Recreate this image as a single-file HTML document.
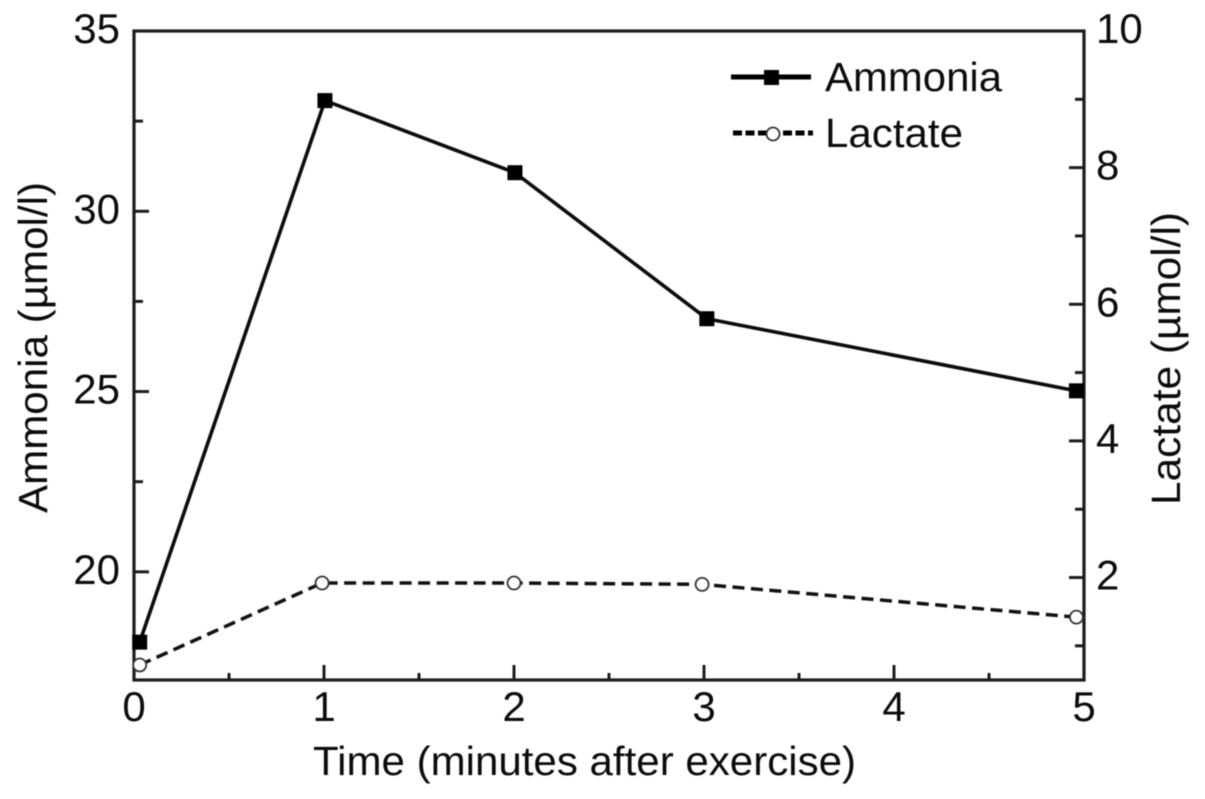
<!DOCTYPE html>
<html lang="en">
<head>
<meta charset="utf-8">
<title>Ammonia and lactate after exercise</title>
<style>
html,body{margin:0;padding:0;background:#fff;width:1205px;height:799px;overflow:hidden}
svg{display:block;filter:blur(0.6px)}
text{font-family:"Liberation Sans",Arial,sans-serif;font-size:41px;fill:#0c0c0c}
.tl{font-size:42px}
</style>
</head>
<body>
<svg id="chart" xmlns="http://www.w3.org/2000/svg" width="1205" height="799" viewBox="0 0 1205 799">
  <rect x="0" y="0" width="1205" height="799" fill="#fff"/>
  <g id="axes"></g>
  <g id="series"></g>
  <g>
    <g>
      <line x1="731" y1="77" x2="811" y2="77" stroke="#000" stroke-width="5"/>
      <rect x="764" y="70" width="15" height="15" fill="#000"/>
      <text x="825" y="91" textLength="177" lengthAdjust="spacingAndGlyphs">Ammonia</text>
    </g>
    <g>
      <line x1="733" y1="133" x2="813" y2="133" stroke="#000" stroke-width="5" stroke-dasharray="9 3.5"/>
      <circle cx="773" cy="134" r="6.5" fill="#fff" stroke="#333" stroke-width="1.8"/>
      <text x="825" y="147" textLength="138" lengthAdjust="spacingAndGlyphs">Lactate</text>
    </g>
  </g>
  <text x="313" y="775" textLength="543" lengthAdjust="spacingAndGlyphs">Time (minutes after exercise)</text>
  <text transform="translate(47,513) rotate(-90)" textLength="331" lengthAdjust="spacingAndGlyphs">Ammonia (µmol/l)</text>
  <text transform="translate(1180,505) rotate(-90)" textLength="293" lengthAdjust="spacingAndGlyphs">Lactate (µmol/l)</text>
</svg>
<script>
const times = [0.03, 1.005, 2.005, 3.015, 4.96];
const lactateTimes = [0.03, 0.99, 2.0, 2.99, 4.96];
const ammoniaValues = [18.05, 33.07, 31.07, 27.02, 25.02];
const lactateValues = [0.72, 1.92, 1.92, 1.9, 1.42];
const xTickLabels = [0, 1, 2, 3, 4, 5];
const xMinorTicks = [0.5, 1.5, 2.5, 3.5, 4.5];
const leftTickLabels = [20, 25, 30, 35];
const leftMinorTicks = [17.5, 22.5, 27.5, 32.5];
const rightTickLabels = [2, 4, 6, 8, 10];
const rightMinorTicks = [1, 3, 5, 7, 9];

const plotLeft = 134, plotRight = 1084, plotTop = 31, plotBottom = 680;
const xMin = 0, xMax = 5, leftMin = 17, leftMax = 35, rightMin = 0.5, rightMax = 10;
const SVG_NS = 'http://www.w3.org/2000/svg';

function xScale(v) { return plotLeft + (v - xMin) / (xMax - xMin) * (plotRight - plotLeft); }
function leftScale(v) { return plotBottom - (v - leftMin) / (leftMax - leftMin) * (plotBottom - plotTop); }
function rightScale(v) { return plotBottom - (v - rightMin) / (rightMax - rightMin) * (plotBottom - plotTop); }

function make(tag, attrs, parent) {
  const el = document.createElementNS(SVG_NS, tag);
  for (const k in attrs) el.setAttribute(k, attrs[k]);
  parent.appendChild(el);
  return el;
}

const axes = document.getElementById('axes');
const series = document.getElementById('series');
const axisStyle = { stroke: '#1c1c1c', 'stroke-width': 3.2, fill: 'none' };

const frame = make('rect', Object.assign({ x: plotLeft, y: plotTop, width: plotRight - plotLeft, height: plotBottom - plotTop }, axisStyle), axes);



function tick(x1, y1, x2, y2, name) {
  const t = make('line', { x1: x1, y1: y1, x2: x2, y2: y2, stroke: '#1c1c1c', 'stroke-width': 3 }, axes);
  
  
}
function label(x, y, str, anchor, name) {
  const t = make('text', { x: x, y: y, 'text-anchor': anchor, 'class': 'tl' }, axes);
  t.textContent = str;
  
  
}

xTickLabels.forEach(function (v) {
  tick(xScale(v), plotBottom, xScale(v), plotBottom - 15, 'x-major-tick');
  label(xScale(v), 721, String(v), 'middle', 'x-tick-label');
});
xMinorTicks.forEach(function (v) {
  tick(xScale(v), plotBottom, xScale(v), plotBottom - 7, 'x-minor-tick');
});
leftTickLabels.forEach(function (v) {
  tick(plotLeft, leftScale(v), plotLeft + 15, leftScale(v), 'left-major-tick');
  label(120, leftScale(v) + 12, String(v), 'end', 'left-tick-label');
});
leftMinorTicks.forEach(function (v) {
  tick(plotLeft, leftScale(v), plotLeft + 9, leftScale(v), 'left-minor-tick');
});
rightTickLabels.forEach(function (v) {
  tick(plotRight, rightScale(v), plotRight - 15, rightScale(v), 'right-major-tick');
  label(1096, rightScale(v) + 12, String(v), 'start', 'right-tick-label');
});
rightMinorTicks.forEach(function (v) {
  tick(plotRight, rightScale(v), plotRight - 9, rightScale(v), 'right-minor-tick');
});

const ammoniaPts = ammoniaValues.map(function (v, i) { return xScale(times[i]) + ',' + leftScale(v); }).join(' ');
const ammoniaLine = make('polyline', { points: ammoniaPts, fill: 'none', stroke: '#0c0c0c', 'stroke-width': 3.6 }, series);



const lactatePts = lactateValues.map(function (v, i) { return xScale(lactateTimes[i]) + ',' + rightScale(v); }).join(' ');
const lactateLine = make('polyline', { points: lactatePts, fill: 'none', stroke: '#111', 'stroke-width': 3.5, 'stroke-dasharray': '12 6.5' }, series);



lactateValues.forEach(function (v, i) {
  const c = make('circle', { cx: xScale(lactateTimes[i]), cy: rightScale(v), r: 6.5, fill: '#fff', stroke: '#333', 'stroke-width': 1.8 }, series);
  
  
});
ammoniaValues.forEach(function (v, i) {
  const r = make('rect', { x: xScale(times[i]) - 7.5, y: leftScale(v) - 7.5, width: 15, height: 15, fill: '#000' }, series);
  
  
});
</script>
</body>
</html>
